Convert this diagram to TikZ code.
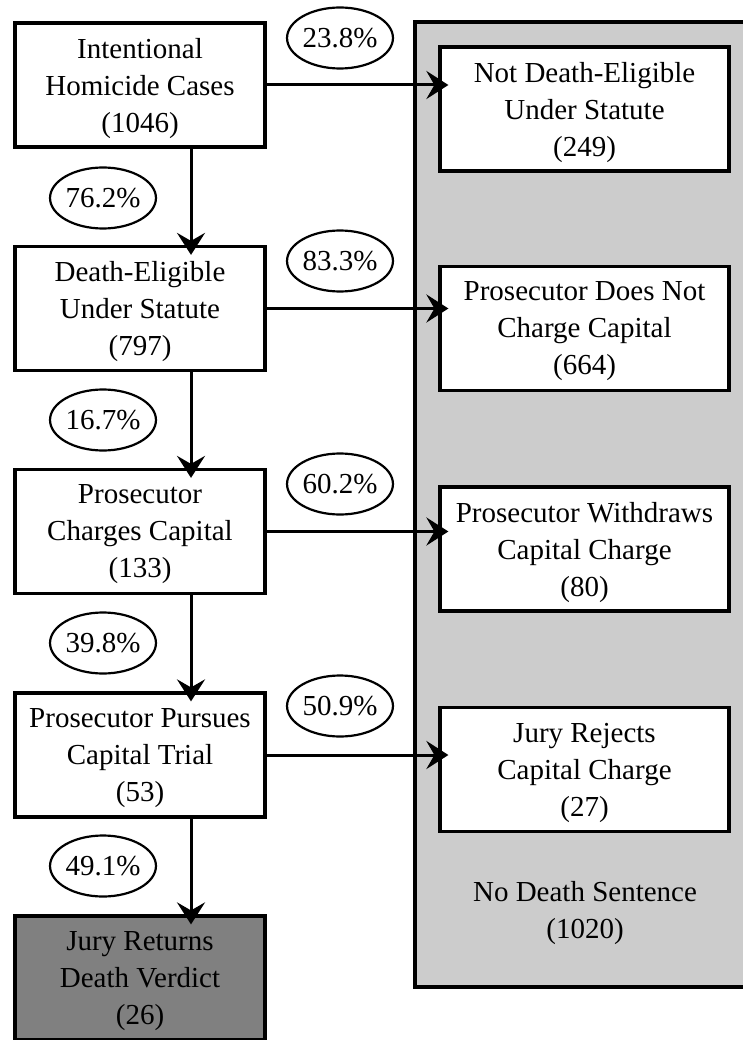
\documentclass[tikz,border=0pt]{standalone}
\usepackage{fontspec}
\setmainfont{Liberation Serif}
\usetikzlibrary{shapes.geometric,arrows.meta}
\begin{document}
\begin{tikzpicture}[x=1pt,y=-1pt,
  txt/.style={font=\fontsize{29}{37}\selectfont, align=center},
  lbox/.style={txt, draw=black, line width=3.2pt, fill=white, minimum width=250pt, minimum height=124pt, inner sep=0pt, text depth=0pt},
  rbox/.style={lbox, minimum width=289pt},
  darkbox/.style={lbox, fill=gray},
  pct/.style={txt, draw=black, ellipse, line width=2.2pt, fill=white, minimum width=105pt, minimum height=61pt, inner sep=0pt},
  flow/.style={line width=3pt, -{Stealth[length=22pt,width=28pt,inset=8pt]}, shorten >=-10pt},
  container/.style={draw=black, line width=3.2pt, fill=gray!40}
]
\useasboundingbox (0,0) rectangle (742,1040);
\filldraw[container] (415,22) rectangle (770,987);
\node[txt] (nods) at (585,913) {No Death Sentence\\(1020)};

\node[lbox] (L1) at (140,85) {Intentional\\Homicide Cases\\(1046)};
\node[lbox] (L2) at (140,308.5) {Death-Eligible\\Under Statute\\(797)};
\node[lbox] (L3) at (140,531.5) {Prosecutor\\Charges Capital\\(133)};
\node[lbox] (L4) at (140,755) {Prosecutor Pursues\\Capital Trial\\(53)};
\node[darkbox] (L5) at (140,978) {Jury Returns\\Death Verdict\\(26)};

\node[rbox] (R1) at (584.5,109) {Not Death-Eligible\\Under Statute\\(249)};
\node[rbox] (R2) at (584.5,328.5) {Prosecutor Does Not\\Charge Capital\\(664)};
\node[rbox] (R3) at (584.5,549) {Prosecutor Withdraws\\Capital Charge\\(80)};
\node[rbox] (R4) at (584.5,769.5) {Jury Rejects\\Capital Charge\\(27)};

\draw[flow] (L1.east) -- (L1.east -| R1.west);
\draw[flow] (L2.east) -- (L2.east -| R2.west);
\draw[flow] (L3.east) -- (L3.east -| R3.west);
\draw[flow] (L4.east) -- (L4.east -| R4.west);

\draw[flow] ([xshift=51pt]L1.south) -- ([xshift=51pt]L2.north);
\draw[flow] ([xshift=51pt]L2.south) -- ([xshift=51pt]L3.north);
\draw[flow] ([xshift=51pt]L3.south) -- ([xshift=51pt]L4.north);
\draw[flow] ([xshift=51pt]L4.south) -- ([xshift=51pt]L5.north);

\node[pct] (p1) at (340,38) {23.8\%};
\node[pct] (p2) at (103,198) {76.2\%};
\node[pct] (p3) at (340,261) {83.3\%};
\node[pct] (p4) at (103,420) {16.7\%};
\node[pct] (p5) at (340,484) {60.2\%};
\node[pct] (p6) at (103,643) {39.8\%};
\node[pct] (p7) at (340,706) {50.9\%};
\node[pct] (p8) at (103,866) {49.1\%};
\end{tikzpicture}
\end{document}
